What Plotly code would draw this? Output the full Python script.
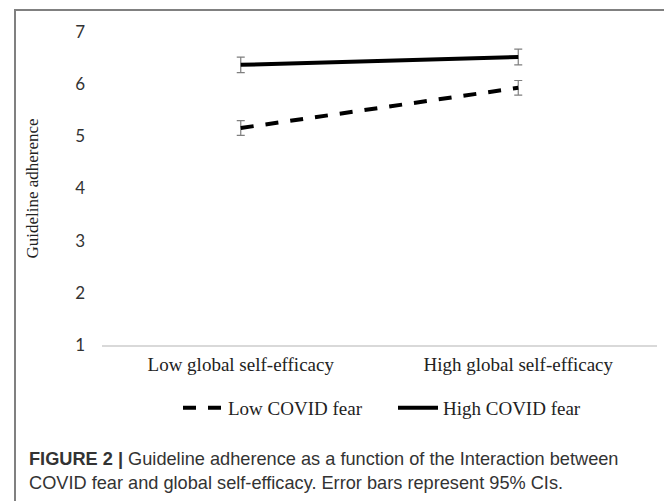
import plotly.graph_objects as go

categories = ["Low global self-efficacy", "High global self-efficacy"]
low_fear = [5.16, 5.93]
high_fear = [6.37, 6.52]
low_fear_err = [0.14, 0.14]
high_fear_err = [0.15, 0.15]
y_ticks = [1, 2, 3, 4, 5, 6, 7]

fig = go.Figure()
fig.add_trace(go.Scatter(
    x=categories, y=low_fear, name="Low COVID fear", mode="lines",
    line=dict(color="black", width=4, dash="13px,12px"),
    error_y=dict(type="data", array=low_fear_err, color="#7f7f7f", thickness=1.2, width=4),
))
fig.add_trace(go.Scatter(
    x=categories, y=high_fear, name="High COVID fear", mode="lines",
    line=dict(color="black", width=4),
    error_y=dict(type="data", array=high_fear_err, color="#7f7f7f", thickness=1.2, width=4),
))

OFF = 8
W, H = 672 - OFF, 501 - OFF
PL, PR, PT, PB = 102, 657, 32, 345
L, R, T, B = PL - OFF, (672 - PR), PT - OFF, 501 - PB
pw, ph = PR - PL, PB - PT

def px(x):
    return (x - PL) / pw

def py(y):
    return (PB - y) / ph

serif = "Liberation Serif, Times New Roman, serif"

fig.update_layout(
    width=W, height=H,
    margin=dict(l=L, r=R, t=T, b=B),
    paper_bgcolor="white", plot_bgcolor="white",
    showlegend=True,
    legend=dict(orientation="h", x=px(178), xanchor="left", y=py(408), yanchor="middle",
                font=dict(family=serif, size=19, color="#222"),
                itemwidth=40, entrywidth=160,
                bgcolor="rgba(0,0,0,0)", traceorder="normal"),
    xaxis=dict(range=[-0.5, 1.5], showgrid=False, showline=True, linecolor="#d9d9d9", linewidth=1.5,
               ticks="", zeroline=False, ticklabelstandoff=1,
               tickfont=dict(family=serif, size=19, color="#222")),
    yaxis=dict(range=[1, 7], tickvals=y_ticks, showgrid=False, showline=False, zeroline=False,
               ticks="", ticklabelstandoff=16,
               tickfont=dict(family="Lato, Open Sans, sans-serif", size=17, color="#333"),
               title=dict(text="Guideline adherence", standoff=32,
                          font=dict(family=serif, size=17, color="#222"))),
    shapes=[dict(type="rect", xref="paper", yref="paper",
                 x0=px(15), x1=px(668), y0=py(510), y1=py(10),
                 line=dict(color="#808080", width=2), fillcolor="rgba(0,0,0,0)", layer="above")],
    annotations=[
        dict(xref="paper", yref="paper", x=px(27), y=py(471.5), xanchor="left", yanchor="middle",
             align="left", showarrow=False,
             text="<b>FIGURE 2 |</b> Guideline adherence as a function of the Interaction between<br>COVID fear and global self-efficacy. Error bars represent 95% CIs.",
             font=dict(family="Liberation Sans, Arial, sans-serif", size=18.2, color="#333")),
    ],
)

fig.write_html("out.html", config={"displayModeBar": False})
